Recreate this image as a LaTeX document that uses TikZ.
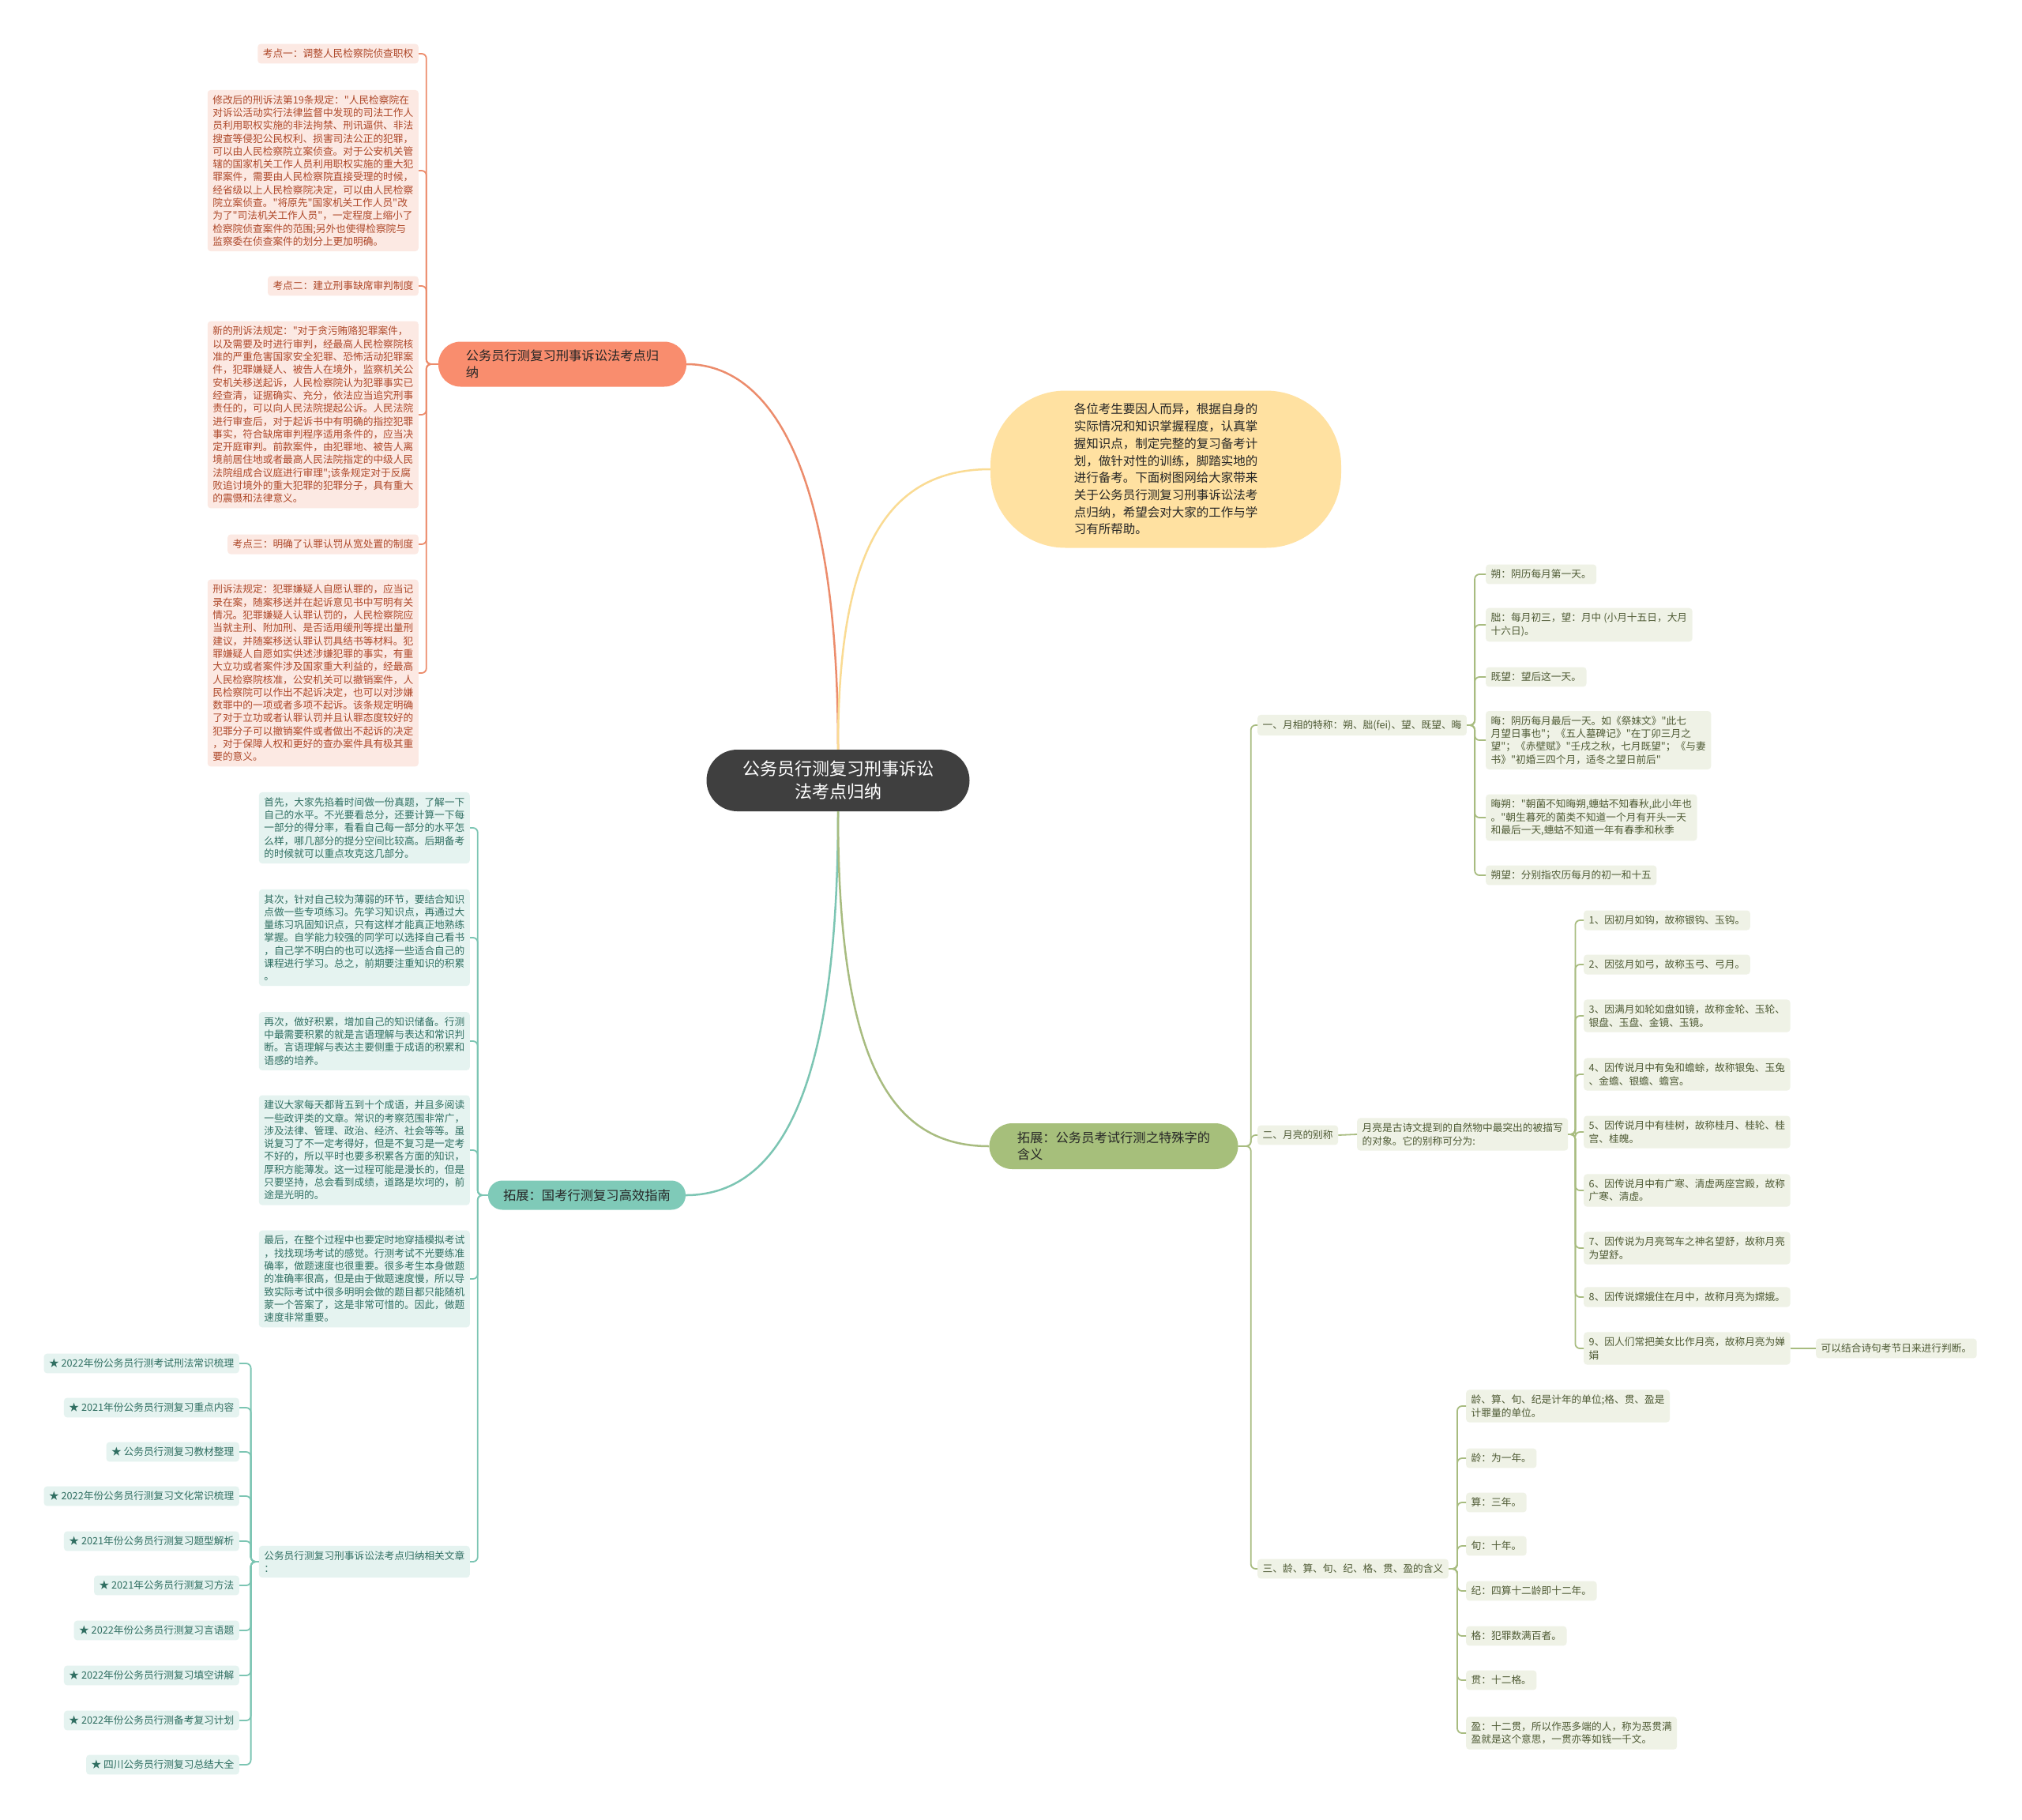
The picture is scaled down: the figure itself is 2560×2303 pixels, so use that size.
\documentclass[tikz,border=0pt]{standalone}
\usepackage{fontspec}
\newfontfamily\cjk{Noto Sans CJK SC}
\usetikzlibrary{calc}
\definecolor{rootfill}{HTML}{3F3F3F}
\definecolor{orgfill}{HTML}{F98D6E}
\definecolor{orgln}{HTML}{EC8C6C}
\definecolor{redfill}{HTML}{FCE9E3}
\definecolor{redtxt}{HTML}{AE4829}
\definecolor{ylwfill}{HTML}{FFE1A1}
\definecolor{ylwln}{HTML}{FADB93}
\definecolor{tealfill}{HTML}{7FCAB8}
\definecolor{tealln}{HTML}{7CC5B3}
\definecolor{grnfill}{HTML}{E5F3F0}
\definecolor{grntxt}{HTML}{2F6E61}
\definecolor{olvfill}{HTML}{A6BF7B}
\definecolor{olvln}{HTML}{A8BC80}
\definecolor{olvleaf}{HTML}{EFF2E6}
\definecolor{olvtxt}{HTML}{4F5B35}
\newcommand\leaffont{\cjk\fontsize{12.7}{16.3}\selectfont}
\newcommand\brfont{\cjk\fontsize{16.3}{21}\selectfont}
\tikzset{
  leafbase/.style={rounded corners=4pt, inner sep=6.5pt, align=left, font=\leaffont},
  redleaf/.style={leafbase, fill=redfill, text=redtxt, anchor=east},
  grnleaf/.style={leafbase, fill=grnfill, text=grntxt, anchor=east},
  olvleafst/.style={leafbase, fill=olvleaf, text=olvtxt, anchor=west},
  redlink/.style={draw=orgln, line width=1.8pt, rounded corners=6pt},
  grnlink/.style={draw=tealln, line width=1.8pt, rounded corners=6pt},
  olvlink/.style={draw=olvln, line width=1.8pt, rounded corners=6pt},
}
\begin{document}
\begin{tikzpicture}[x=1pt,y=-1pt]
\useasboundingbox[fill=white] (0,0) rectangle (2560,2303);

% main nodes
\node[fill=rootfill, text=white, rounded corners=39pt, minimum width=333pt, minimum height=78pt, align=center, font=\cjk\fontsize{22}{29}\selectfont] (root) at (1061,988) {公务员行测复习刑事诉讼\\法考点归纳};
\node[fill=orgfill, text=black!85, rounded corners=28pt, minimum width=314pt, minimum height=57pt, align=left, font=\brfont] (orng) at (712,461) {公务员行测复习刑事诉讼法考点归\\纳};
\node[fill=ylwfill, text=black!85, rounded corners=95pt, minimum width=444pt, minimum height=199pt, align=left, font=\cjk\fontsize{15.5}{21.7}\selectfont] (ylw) at (1476,594) {各位考生要因人而异，根据自身的\\实际情况和知识掌握程度，认真掌\\握知识点，制定完整的复习备考计\\划，做针对性的训练，脚踏实地的\\进行备考。下面树图网给大家带来\\关于公务员行测复习刑事诉讼法考\\点归纳，希望会对大家的工作与学\\习有所帮助。};
\node[fill=tealfill, text=black!85, rounded corners=18pt, minimum width=250pt, minimum height=37pt, font=\brfont] (teal) at (743,1513) {拓展：国考行测复习高效指南};
\node[fill=olvfill, text=black!85, rounded corners=29pt, minimum width=315pt, minimum height=58pt, align=left, font=\brfont] (olv) at (1410,1451) {拓展：公务员考试行测之特殊字的\\含义};

% main connectors
\draw[orgln, line width=2.5pt] (root.north) .. controls (1061,560) and (960,461) .. (orng.east);
\draw[ylwln, line width=2.5pt] (root.north) .. controls (1061,700) and (1120,594) .. (ylw.west);
\draw[tealln, line width=2.5pt] (root.south) .. controls (1061,1350) and (1000,1513) .. (teal.east);
\draw[olvln, line width=2.5pt] (root.south) .. controls (1061,1350) and (1130,1451) .. (olv.west);

% red leaves
\node[redleaf] (r1) at (530,68) {考点一：调整人民检察院侦查职权};
\node[redleaf] (r2) at (530,216) {修改后的刑诉法第19条规定："人民检察院在\\对诉讼活动实行法律监督中发现的司法工作人\\员利用职权实施的非法拘禁、刑讯逼供、非法\\搜查等侵犯公民权利、损害司法公正的犯罪，\\可以由人民检察院立案侦查。对于公安机关管\\辖的国家机关工作人员利用职权实施的重大犯\\罪案件，需要由人民检察院直接受理的时候，\\经省级以上人民检察院决定，可以由人民检察\\院立案侦查。"将原先"国家机关工作人员"改\\为了"司法机关工作人员"，一定程度上缩小了\\检察院侦查案件的范围;另外也使得检察院与\\监察委在侦查案件的划分上更加明确。};
\node[redleaf] (r3) at (530,362) {考点二：建立刑事缺席审判制度};
\node[redleaf] (r4) at (530,525) {新的刑诉法规定："对于贪污贿赂犯罪案件，\\以及需要及时进行审判，经最高人民检察院核\\准的严重危害国家安全犯罪、恐怖活动犯罪案\\件，犯罪嫌疑人、被告人在境外，监察机关公\\安机关移送起诉，人民检察院认为犯罪事实已\\经查清，证据确实、充分，依法应当追究刑事\\责任的，可以向人民法院提起公诉。人民法院\\进行审查后，对于起诉书中有明确的指控犯罪\\事实，符合缺席审判程序适用条件的，应当决\\定开庭审判。前款案件，由犯罪地、被告人离\\境前居住地或者最高人民法院指定的中级人民\\法院组成合议庭进行审理";该条规定对于反腐\\败追讨境外的重大犯罪的犯罪分子，具有重大\\的震慑和法律意义。};
\node[redleaf] (r5) at (530,689) {考点三：明确了认罪认罚从宽处置的制度};
\node[redleaf] (r6) at (530,852) {刑诉法规定：犯罪嫌疑人自愿认罪的，应当记\\录在案，随案移送并在起诉意见书中写明有关\\情况。犯罪嫌疑人认罪认罚的，人民检察院应\\当就主刑、附加刑、是否适用缓刑等提出量刑\\建议，并随案移送认罪认罚具结书等材料。犯\\罪嫌疑人自愿如实供述涉嫌犯罪的事实，有重\\大立功或者案件涉及国家重大利益的，经最高\\人民检察院核准，公安机关可以撤销案件，人\\民检察院可以作出不起诉决定，也可以对涉嫌\\数罪中的一项或者多项不起诉。该条规定明确\\了对于立功或者认罪认罚并且认罪态度较好的\\犯罪分子可以撤销案件或者做出不起诉的决定\\，对于保障人权和更好的查办案件具有极其重\\要的意义。};
\coordinate (rb) at ($(orng.west)+(-15,0)$);
\foreach \n in {r1,r2,r3,r4,r5,r6}{\draw[redlink] (orng.west) -- (rb) |- (\n.east);}

% green leaves
\node[grnleaf] (g1) at (595,1048) {首先，大家先掐着时间做一份真题，了解一下\\自己的水平。不光要看总分，还要计算一下每\\一部分的得分率，看看自己每一部分的水平怎\\么样，哪几部分的提分空间比较高。后期备考\\的时候就可以重点攻克这几部分。};
\node[grnleaf] (g2) at (595,1187) {其次，针对自己较为薄弱的环节，要结合知识\\点做一些专项练习。先学习知识点，再通过大\\量练习巩固知识点，只有这样才能真正地熟练\\掌握。自学能力较强的同学可以选择自己看书\\，自己学不明白的也可以选择一些适合自己的\\课程进行学习。总之，前期要注重知识的积累\\。};
\node[grnleaf] (g3) at (595,1318) {再次，做好积累，增加自己的知识储备。行测\\中最需要积累的就是言语理解与表达和常识判\\断。言语理解与表达主要侧重于成语的积累和\\语感的培养。};
\node[grnleaf] (g4) at (595,1456) {建议大家每天都背五到十个成语，并且多阅读\\一些政评类的文章。常识的考察范围非常广，\\涉及法律、管理、政治、经济、社会等等。虽\\说复习了不一定考得好，但是不复习是一定考\\不好的，所以平时也要多积累各方面的知识，\\厚积方能薄发。这一过程可能是漫长的，但是\\只要坚持，总会看到成绩，道路是坎坷的，前\\途是光明的。};
\node[grnleaf] (g5) at (595,1619) {最后，在整个过程中也要定时地穿插模拟考试\\，找找现场考试的感觉。行测考试不光要练准\\确率，做题速度也很重要。很多考生本身做题\\的准确率很高，但是由于做题速度慢，所以导\\致实际考试中很多明明会做的题目都只能随机\\蒙一个答案了，这是非常可惜的。因此，做题\\速度非常重要。};
\node[grnleaf] (g6) at (595,1977) {公务员行测复习刑事诉讼法考点归纳相关文章\\：};
\coordinate (tb) at ($(teal.west)+(-13,0)$);
\foreach \n in {g1,g2,g3,g4,g5,g6}{\draw[grnlink] (teal.west) -- (tb) |- (\n.east);}

% list items
\node[grnleaf] (l1) at (303,1726) {★ 2022年份公务员行测考试刑法常识梳理};
\node[grnleaf] (l2) at (303,1782) {★ 2021年份公务员行测复习重点内容};
\node[grnleaf] (l3) at (303,1838) {★ 公务员行测复习教材整理};
\node[grnleaf] (l4) at (303,1894) {★ 2022年份公务员行测复习文化常识梳理};
\node[grnleaf] (l5) at (303,1951) {★ 2021年份公务员行测复习题型解析};
\node[grnleaf] (l6) at (303,2007) {★ 2021年公务员行测复习方法};
\node[grnleaf] (l7) at (303,2064) {★ 2022年份公务员行测复习言语题};
\node[grnleaf] (l8) at (303,2121) {★ 2022年份公务员行测复习填空讲解};
\node[grnleaf] (l9) at (303,2178) {★ 2022年份公务员行测备考复习计划};
\node[grnleaf] (l10) at (303,2234) {★ 四川公务员行测复习总结大全};
\coordinate (lb) at ($(g6.west)+(-10,0)$);
\foreach \n in {l1,l2,l3,l4,l5,l6,l7,l8,l9,l10}{\draw[grnlink] (g6.west) -- (lb) |- (\n.east);}

% right side
\node[olvleafst] (A) at (1592,918) {一、月相的特称：朔、朏(fei)、望、既望、晦};
\node[olvleafst] (B) at (1592,1437) {二、月亮的别称};
\node[olvleafst] (C) at (1592,1986) {三、龄、算、旬、纪、格、贯、盈的含义};
\coordinate (ob) at ($(olv.east)+(16,0)$);
\foreach \n in {A,B,C}{\draw[olvlink] (olv.east) -- (ob) |- (\n.west);}

\node[olvleafst] (a1) at (1881,727) {朔：阴历每月第一天。};
\node[olvleafst] (a2) at (1881,791) {朏：每月初三，望：月中 (小月十五日，大月\\十六日)。};
\node[olvleafst] (a3) at (1881,857) {既望：望后这一天。};
\node[olvleafst] (a4) at (1881,937) {晦：阴历每月最后一天。如《祭妹文》"此七\\月望日事也"；《五人墓碑记》"在丁卯三月之\\望"；《赤壁赋》"壬戌之秋，七月既望"；《与妻\\书》"初婚三四个月，适冬之望日前后"};
\node[olvleafst] (a5) at (1881,1035) {晦朔："朝菌不知晦朔,蟪蛄不知春秋,此小年也\\。"朝生暮死的菌类不知道一个月有开头一天\\和最后一天,蟪蛄不知道一年有春季和秋季};
\node[olvleafst] (a6) at (1881,1108) {朔望：分别指农历每月的初一和十五};
\coordinate (ab) at ($(A.east)+(10,0)$);
\foreach \n in {a1,a2,a3,a4,a5,a6}{\draw[olvlink] (A.east) -- (ab) |- (\n.west);}

\node[olvleafst] (B1) at (1718,1436) {月亮是古诗文提到的自然物中最突出的被描写\\的对象。它的别称可分为:};
\draw[olvlink] (B.east) -- (B1.west);
\node[olvleafst] (b1) at (2005,1165) {1、因初月如钩，故称银钩、玉钩。};
\node[olvleafst] (b2) at (2005,1221) {2、因弦月如弓，故称玉弓、弓月。};
\node[olvleafst] (b3) at (2005,1286) {3、因满月如轮如盘如镜，故称金轮、玉轮、\\银盘、玉盘、金镜、玉镜。};
\node[olvleafst] (b4) at (2005,1360) {4、因传说月中有兔和蟾蜍，故称银兔、玉兔\\、金蟾、银蟾、蟾宫。};
\node[olvleafst] (b5) at (2005,1433) {5、因传说月中有桂树，故称桂月、桂轮、桂\\宫、桂魄。};
\node[olvleafst] (b6) at (2005,1507) {6、因传说月中有广寒、清虚两座宫殿，故称\\广寒、清虚。};
\node[olvleafst] (b7) at (2005,1580) {7、因传说为月亮驾车之神名望舒，故称月亮\\为望舒。};
\node[olvleafst] (b8) at (2005,1642) {8、因传说嫦娥住在月中，故称月亮为嫦娥。};
\node[olvleafst] (b9) at (2005,1707) {9、因人们常把美女比作月亮，故称月亮为婵\\娟};
\coordinate (bb) at ($(B1.east)+(9,0)$);
\foreach \n in {b1,b2,b3,b4,b5,b6,b7,b8,b9}{\draw[olvlink] (B1.east) -- (bb) |- (\n.west);}
\node[olvleafst] (b9x) at (2299,1707) {可以结合诗句考节日来进行判断。};
\draw[olvlink] (b9.east) -- (b9x.west);

\node[olvleafst] (c1) at (1856,1780) {龄、算、旬、纪是计年的单位;格、贯、盈是\\计罪量的单位。};
\node[olvleafst] (c2) at (1856,1846) {龄：为一年。};
\node[olvleafst] (c3) at (1856,1902) {算：三年。};
\node[olvleafst] (c4) at (1856,1957) {旬：十年。};
\node[olvleafst] (c5) at (1856,2014) {纪：四算十二龄即十二年。};
\node[olvleafst] (c6) at (1856,2071) {格：犯罪数满百者。};
\node[olvleafst] (c7) at (1856,2127) {贯：十二格。};
\node[olvleafst] (c8) at (1856,2194) {盈：十二贯，所以作恶多端的人，称为恶贯满\\盈就是这个意思，一贯亦等如钱一千文。};
\coordinate (cb) at ($(C.east)+(11,0)$);
\foreach \n in {c1,c2,c3,c4,c5,c6,c7,c8}{\draw[olvlink] (C.east) -- (cb) |- (\n.west);}
\end{tikzpicture}
\end{document}
